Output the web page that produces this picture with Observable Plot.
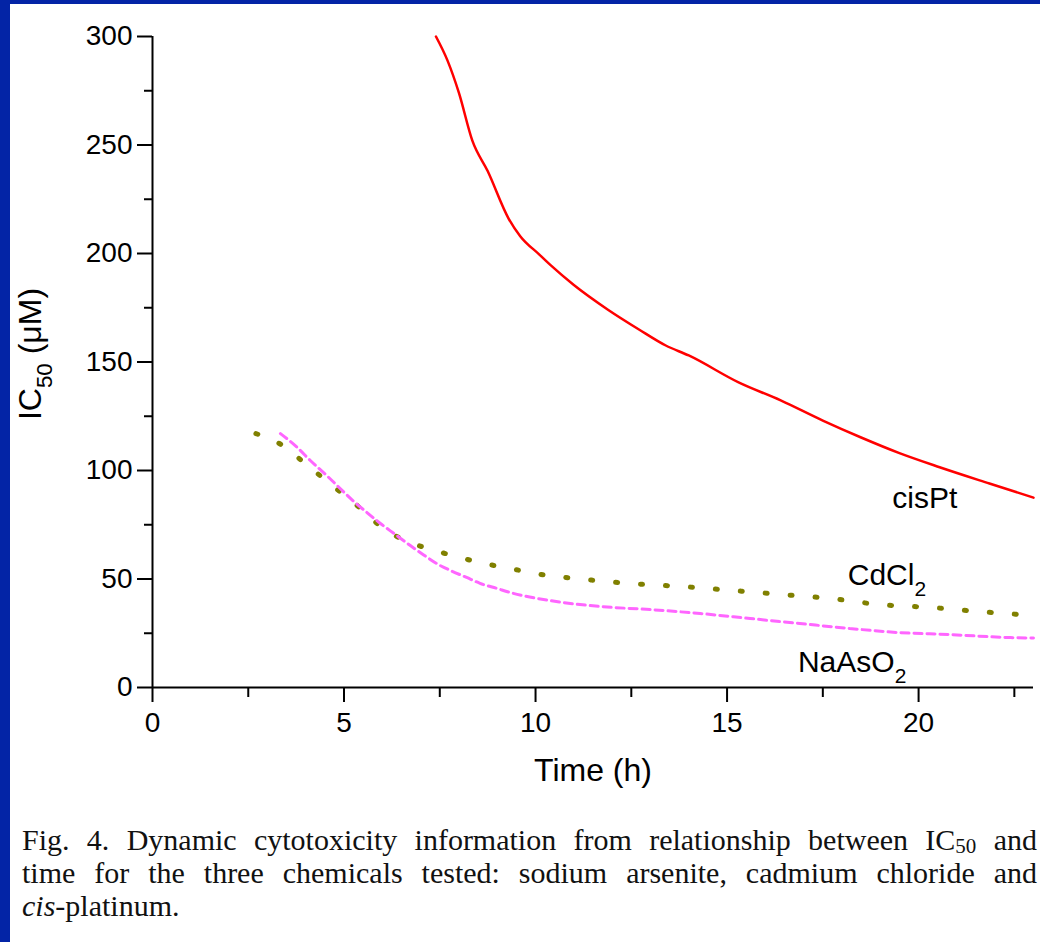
<!DOCTYPE html>
<html>
<head>
<meta charset="utf-8">
<script src="https://cdn.jsdelivr.net/npm/d3@7"></script>
<script src="https://cdn.jsdelivr.net/npm/@observablehq/plot@0.6"></script>
<style>
html, body { margin: 0; padding: 0; background: #0324a6; width: 1040px; height: 942px; overflow: hidden; }
#page { position: absolute; left: 10px; top: 4px; width: 1030px; height: 938px; background: #fff; }
#chart svg { display: block; }
#caption { font-family: "Liberation Serif", "Times New Roman", serif; font-size: 30px; line-height: 33px; color: #111;
  padding: 0 3px 0 12px; margin-top: 29px; }
#caption div { text-align: justify; text-align-last: justify; }
#caption div.last { text-align-last: left; }
#caption sub { font-size: 0.7em; line-height: 0; vertical-align: -0.12em; }
</style>
</head>
<body>
<div id="page">
  <div id="chart"></div>
  <div id="caption">
    <div>Fig. 4. Dynamic cytotoxicity information from relationship between IC<sub>50</sub> and</div>
    <div>time for the three chemicals tested: sodium arsenite, cadmium chloride and</div>
    <div class="last"><i>cis</i>-platinum.</div>
  </div>
</div>
<script>
// ---- data ----
const cisPtTime  = [7.4, 7.7, 8.0, 8.35, 8.75, 9.3, 9.6, 10.1, 10.4, 11.0, 11.9, 12.7, 13.4, 14.0, 15.3, 16.4, 17.5, 18.5, 19.5, 20.55, 21.85, 23.0];
const cisPtIC50  = [300, 289, 274, 252, 238, 216, 208, 199.5, 194.5, 185.5, 174, 165, 157.6, 153, 140.6, 132.3, 123, 115.2, 108, 101.5, 94, 87.5];

const cdcl2Time  = [2.7, 3.4, 4.0, 4.7, 5.4, 6.05, 6.7, 7.4, 8.0, 8.7, 9.35, 10.0, 11.3, 12.5, 13.85, 15.15, 16.4, 17.7, 19.0, 20.3, 21.6, 22.25, 23.0];
const cdcl2IC50  = [117, 111.5, 103, 93, 83, 73, 67, 63, 60, 57, 54.8, 52.5, 49.8, 47.9, 46.5, 44.7, 42.9, 41, 38.2, 36.9, 35, 34.1, 33.3];

const naasoTime  = [3.34, 3.78, 4.12, 4.56, 4.9, 5.24, 5.6, 5.95, 6.34, 6.73, 7.07, 7.43, 7.82, 8.2, 8.55, 9.0, 9.33, 10.4, 11.7, 13.0, 14.3, 15.6, 16.9, 18.2, 19.5, 20.8, 22.4, 23.0];
const naasoIC50  = [117, 110.6, 104.6, 97.5, 91.7, 86, 80.6, 75.6, 70.5, 65.4, 61.2, 57, 53.6, 50.7, 48, 45.6, 43.8, 40, 37.3, 35.9, 34.1, 31.8, 29.5, 27.2, 25.3, 24.4, 23, 22.8];

const xMajorTicks = [0, 5, 10, 15, 20];
const xMinorTicks = [2.5, 7.5, 12.5, 17.5, 22.5];
const yMajorTicks = [0, 50, 100, 150, 200, 250, 300];
const yMinorTicks = [25, 75, 125, 175, 225, 275];

const labelText = ["cisPt", "CdCl2", "NaAsO2"];
const labelTime = [20.16, 18.15, 16.85];
const labelIC50 = [87, 51.6, 11.5];
const labelAnchor = ["middle", "start", "start"];

const xTitle = "Time (h)";
const yTitle = "IC50 (μM)";

// ---- build tables ----
const toRows = (t, v) => t.map((d, i) => ({t: d, v: v[i]}));
const ptRows = toRows(cisPtTime, cisPtIC50);
const cdRows = toRows(cdcl2Time, cdcl2IC50);
const naRows = toRows(naasoTime, naasoIC50);
const labels = labelText.map((s, i) => ({text: s, t: labelTime[i], v: labelIC50[i], anchor: labelAnchor[i]}));

const svg = Plot.plot({
  width: 1030,
  height: 790,
  marginLeft: 142,
  marginRight: 7,
  marginTop: 32,
  marginBottom: 107,
  x: {domain: [0, 23]},
  y: {domain: [0, 300]},
  style: {fontFamily: '"Liberation Sans", Arial, sans-serif', color: "#000", background: "transparent", overflow: "visible"},
  marks: [
    Plot.line(cdRows, {x: "t", y: "v", stroke: "#808000", strokeWidth: 5, strokeDasharray: "2,23", strokeLinecap: "round", curve: "monotone-x"}),
    Plot.line(naRows, {x: "t", y: "v", stroke: "#ff66ff", strokeWidth: 3, strokeDasharray: "8,5", curve: "monotone-x"}),
    Plot.line(ptRows, {x: "t", y: "v", stroke: "#ff0000", strokeWidth: 2.5, curve: "monotone-x"}),
    Plot.ruleY([0], {strokeWidth: 2}),
    Plot.ruleX([0], {strokeWidth: 2}),
    Plot.axisX(xMajorTicks, {tickSize: 15, tickPadding: 10, fontSize: 28, strokeWidth: 2, tickFormat: d => String(d), label: null}),
    Plot.axisX(xMinorTicks, {tickSize: 10, strokeWidth: 2, tickFormat: () => "", label: null}),
    Plot.axisY(yMajorTicks, {tickSize: 15, tickPadding: 5, fontSize: 28, strokeWidth: 2, tickFormat: d => String(d), label: null}),
    Plot.axisY(yMinorTicks, {tickSize: 8, strokeWidth: 2, tickFormat: () => "", label: null}),
    Plot.text(labels.filter(d => d.anchor === "middle"), {x: "t", y: "v", text: "text", textAnchor: "middle", fontSize: 30}),
    Plot.text(labels.filter(d => d.anchor === "start"), {x: "t", y: "v", text: "text", textAnchor: "start", fontSize: 30}),
    Plot.text([xTitle], {text: d => d, frameAnchor: "bottom", lineAnchor: "middle", textAnchor: "middle", dy: 83, fontSize: 32}),
    Plot.text([yTitle], {text: d => d, frameAnchor: "left", lineAnchor: "middle", textAnchor: "middle", rotate: -90, dx: -122, dy: -8, fontSize: 32})
  ]
});

// subscripts as real text
const subs = {
  "IC50 (μM)": {parts: [["IC", 0], ["50", 1], [" (μM)", 0]], fs: 32},
  "CdCl2": {parts: [["CdCl", 0], ["2", 1]], fs: 30},
  "NaAsO2": {parts: [["NaAsO", 0], ["2", 1]], fs: 30}
};
d3.select(svg).selectAll("text").each(function() {
  const s = subs[this.textContent];
  if (!s) return;
  const el = d3.select(this);
  el.text(null);
  const shift = 0.36 * s.fs;
  let lowered = false;
  for (const [str, isSub] of s.parts) {
    const ts = el.append("tspan").text(str);
    if (isSub) { ts.attr("font-size", 0.7 * s.fs).attr("dy", shift); lowered = true; }
    else if (lowered) { ts.attr("dy", -shift); lowered = false; }
  }
});

document.getElementById("chart").appendChild(svg);
</script>
</body>
</html>
